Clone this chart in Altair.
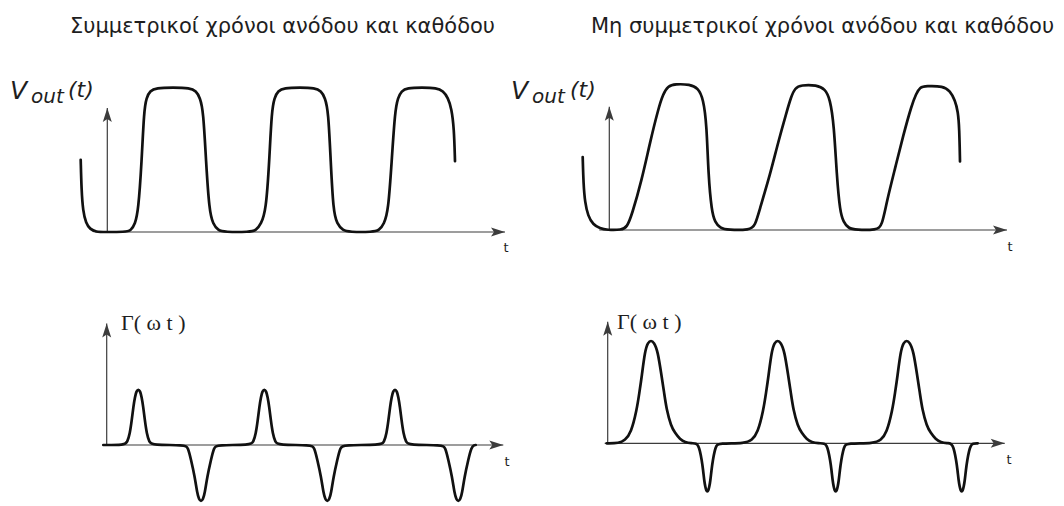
import altair as alt
import pandas as pd

# ------------------------------------------------------------------
# Waveform samples.  t is measured from the vertical axis in tenths of
# (roughly) one switching period; Vout is normalised to the high level,
# Γ(ωt) to the tallest pulse of the asymmetric case.
# ------------------------------------------------------------------

# Vout(t), symmetric rise/fall times
sym_t = [-2.66, -2.58, -2.43, -2.13, -1.73, -1.13, -0.23, 1.77, 2.37, 2.77,
         3.10, 3.44, 3.67, 3.92, 4.27, 4.87, 6.57, 8.27, 8.87, 9.27,
         9.60, 9.87, 10.20, 10.57, 11.10, 11.67, 14.27, 14.87, 15.37, 15.87,
         16.20, 16.44, 16.72, 17.07, 17.67, 19.27, 20.77, 21.37, 21.77, 22.10,
         22.34, 22.60, 22.97, 23.57, 24.17, 26.57, 27.17, 27.67, 28.10, 28.44,
         28.77, 29.07, 29.42, 29.97, 31.47, 32.94, 33.57, 34.07, 34.42, 34.67,
         34.77]
sym_v = [0.50, 0.29, 0.145, 0.06, 0.02, 0.0, 0.0, 0.0, 0.01, 0.055,
         0.145, 0.49, 0.84, 0.93, 0.976, 0.997, 1.0, 0.997, 0.976, 0.93,
         0.84, 0.49, 0.145, 0.055, 0.01, 0.0, 0.0, 0.01, 0.055, 0.145,
         0.49, 0.84, 0.93, 0.976, 0.997, 1.0, 0.997, 0.976, 0.93, 0.84,
         0.49, 0.145, 0.055, 0.01, 0.0, 0.0, 0.01, 0.055, 0.145, 0.49,
         0.84, 0.93, 0.976, 0.997, 1.0, 0.997, 0.976, 0.93, 0.855, 0.72,
         0.49]

# Vout(t), slow rise / fast fall
asym_t = [-2.66, -2.58, -2.43, -2.13, -1.63, -0.93, -0.23, 1.24, 1.77, 2.24,
          3.24, 4.07, 4.90, 5.37, 5.87, 6.57, 8.07, 8.87, 9.40, 9.74,
          9.90, 10.24, 10.57, 11.07, 11.87, 14.07, 14.57, 15.07, 16.07, 16.90,
          17.74, 18.17, 18.57, 19.17, 20.74, 21.57, 22.07, 22.47, 22.74, 23.07,
          23.42, 23.90, 24.67, 26.74, 27.27, 27.74, 28.57, 29.40, 30.24, 30.67,
          31.07, 31.67, 33.40, 34.07, 34.57, 34.87, 35.00, 35.07]
asym_v = [0.50, 0.31, 0.19, 0.096, 0.038, 0.01, 0.0, 0.0, 0.02, 0.10,
          0.34, 0.60, 0.83, 0.93, 0.986, 1.0, 0.997, 0.973, 0.90, 0.72,
          0.38, 0.125, 0.055, 0.014, 0.0, 0.0, 0.027, 0.149, 0.377, 0.605,
          0.81, 0.91, 0.973, 0.993, 0.993, 0.966, 0.90, 0.72, 0.377, 0.125,
          0.055, 0.012, 0.0, 0.0, 0.027, 0.194, 0.42, 0.65, 0.856, 0.93,
          0.98, 0.986, 0.986, 0.952, 0.89, 0.81, 0.70, 0.47]

# Γ(ωt), symmetric case: narrow pulses of equal height and depth
sym_g_t = [-0.34,
           1.76, 2.06, 2.31, 2.51, 2.66, 2.83, 2.98, 3.16, 3.34, 3.49, 3.66, 3.81, 4.01, 4.26, 4.56,
           7.83, 8.13, 8.43, 8.81, 9.05, 9.23, 9.43, 9.63, 9.81, 10.05, 10.43, 10.73, 11.03,
           14.36, 14.66, 14.91, 15.11, 15.26, 15.43, 15.58, 15.76, 15.94, 16.09, 16.26, 16.41, 16.61, 16.86, 17.16,
           20.46, 20.76, 21.06, 21.44, 21.68, 21.86, 22.06, 22.26, 22.44, 22.68, 23.06, 23.36, 23.66,
           27.43, 27.73, 27.98, 28.18, 28.33, 28.50, 28.65, 28.83, 29.01, 29.16, 29.33, 29.48, 29.68, 29.93, 30.23,
           33.56, 33.86, 34.16, 34.54, 34.78, 34.96, 35.16, 35.36, 35.54, 35.78, 36.16, 36.46, 36.76,
           36.90]
sym_g = [0.0,
         0.0, 0.027, 0.108, 0.243, 0.367, 0.47, 0.524, 0.54, 0.524, 0.47, 0.367, 0.243, 0.108, 0.027, 0.0,
         0.0, -0.022, -0.143, -0.308, -0.468, -0.528, -0.55, -0.528, -0.468, -0.308, -0.143, -0.022, 0.0,
         0.0, 0.027, 0.108, 0.243, 0.367, 0.47, 0.524, 0.54, 0.524, 0.47, 0.367, 0.243, 0.108, 0.027, 0.0,
         0.0, -0.022, -0.143, -0.308, -0.468, -0.528, -0.55, -0.528, -0.468, -0.308, -0.143, -0.022, 0.0,
         0.0, 0.027, 0.108, 0.243, 0.367, 0.47, 0.524, 0.54, 0.524, 0.47, 0.367, 0.243, 0.108, 0.027, 0.0,
         0.0, -0.022, -0.143, -0.308, -0.468, -0.528, -0.55, -0.528, -0.468, -0.308, -0.143, -0.022, 0.0,
         0.0]

# Γ(ωt), asymmetric case: broad tall pulses on the slow edge, small ones on the fast edge
asym_g_t = [-0.10,
            1.13, 1.73, 2.33, 2.90, 3.18, 3.40, 3.73, 4.03, 4.33, 4.63, 5.00, 5.40, 5.63, 5.90, 6.33, 6.73, 7.23, 7.73, 8.40,
            8.86, 9.06, 9.21, 9.41, 9.54, 9.66, 9.76, 9.86, 9.96, 10.06, 10.16, 10.26, 10.38, 10.51, 10.71, 10.86, 11.06,
            13.80, 14.40, 15.00, 15.57, 15.85, 16.07, 16.40, 16.70, 17.00, 17.30, 17.67, 18.07, 18.30, 18.57, 19.00, 19.40, 19.90, 20.40, 21.10,
            21.70, 21.90, 22.05, 22.25, 22.38, 22.50, 22.60, 22.70, 22.80, 22.90, 23.00, 23.10, 23.22, 23.35, 23.55, 23.70, 23.90,
            26.70, 27.30, 27.90, 28.47, 28.75, 28.97, 29.30, 29.60, 29.90, 30.20, 30.57, 30.97, 31.20, 31.47, 31.90, 32.30, 32.80, 33.30, 34.00,
            34.30, 34.50, 34.65, 34.85, 34.98, 35.10, 35.20, 35.30, 35.40, 35.50, 35.60, 35.70, 35.82, 35.95, 36.15, 36.30, 36.50,
            37.00]
asym_g = [0.0,
          0.0, 0.03, 0.10, 0.32, 0.50, 0.645, 0.90, 0.98, 1.0, 0.98, 0.90, 0.645, 0.50, 0.32, 0.17, 0.10, 0.04, 0.01, 0.0,
          0.0, -0.024, -0.066, -0.165, -0.259, -0.367, -0.423, -0.461, -0.47, -0.461, -0.423, -0.367, -0.259, -0.165, -0.066, -0.024, 0.0,
          0.0, 0.03, 0.10, 0.32, 0.50, 0.645, 0.90, 0.98, 1.0, 0.98, 0.90, 0.645, 0.50, 0.32, 0.17, 0.10, 0.04, 0.01, 0.0,
          0.0, -0.024, -0.066, -0.165, -0.259, -0.367, -0.423, -0.461, -0.47, -0.461, -0.423, -0.367, -0.259, -0.165, -0.066, -0.024, 0.0,
          0.0, 0.03, 0.10, 0.32, 0.50, 0.645, 0.90, 0.98, 1.0, 0.98, 0.90, 0.645, 0.50, 0.32, 0.17, 0.10, 0.04, 0.01, 0.0,
          0.0, -0.024, -0.066, -0.165, -0.259, -0.367, -0.423, -0.461, -0.47, -0.461, -0.423, -0.367, -0.259, -0.165, -0.066, -0.024, 0.0,
          0.0]

titles = ["Συμμετρικοί χρόνοι ανόδου και καθόδου",
          "Μη συμμετρικοί χρόνοι ανόδου και καθόδου"]

# ------------------------------------------------------------------
# Layout and style
# ------------------------------------------------------------------
PW, PH = 532, 253          # each of the four panels
TU = 10.0                  # pixels per time unit
INK = "#111111"
AXIS_C = "#3c3c3c"
TEXT_C = "#1e1e1e"
SANS = "DejaVu Sans"
SERIF = "Liberation Serif"

# arrowheads drawn with their tip on the anchor point (1 path unit = 1 px at size 4)
ARROW_RIGHT = "M0,0L-14,-4.5L-11,0L-14,4.5Z"
ARROW_UP = "M0,0L-4.5,14L0,11L4.5,14Z"

# per panel: axis origin inside the panel (px), px per amplitude unit,
# x-axis extent and y-axis tip
FRAMES = {
    "p1": dict(x0=107.3, y0=232.0, yu=144.5, xaxis=(-1.2, 39.77), ytip=0.858),
    "p2": dict(x0=77.3, y0=230.0, yu=146.0, xaxis=(-1.0, 39.77), ytip=0.845),
    "p3": dict(x0=106.7, y0=192.0, yu=103.0, xaxis=(-0.4, 39.66), ytip=1.18),
    "p4": dict(x0=75.7, y0=190.3, yu=103.0, xaxis=(-0.3, 39.70), ytip=1.18),
}

TITLE_STYLE = dict(font=SANS, fontSize=21, align="center", baseline="alphabetic", color=TEXT_C)
V_STYLE = dict(font=SANS, fontSize=25, fontStyle="italic", align="left", baseline="alphabetic", color=TEXT_C)
SUB_STYLE = dict(font=SANS, fontSize=20, fontStyle="italic", align="left", baseline="alphabetic", color=TEXT_C)
ARG_STYLE = dict(font=SANS, fontSize=22, fontStyle="italic", align="left", baseline="alphabetic", color=TEXT_C)
GAMMA_STYLE = dict(font=SERIF, fontSize=22, align="left", baseline="middle", color=TEXT_C)
T_STYLE = dict(font=SANS, fontSize=13, align="center", baseline="middle", color=TEXT_C)

LABELS = {
    "p1": [(titles[0], 17.52, 1.377, TITLE_STYLE),
           ("V", -9.73, 0.920, V_STYLE),
           ("out", -7.63, 0.893, SUB_STYLE),
           ("(t)", -3.93, 0.934, ARG_STYLE),
           ("t", 39.87, -0.110, T_STYLE)],
    "p2": [(titles[1], 21.32, 1.349, TITLE_STYLE),
           ("V", -9.83, 0.897, V_STYLE),
           ("out", -7.73, 0.870, SUB_STYLE),
           ("(t)", -3.93, 0.911, ARG_STYLE),
           ("t", 40.07, -0.116, T_STYLE)],
    "p3": [("Γ( ω t )", 1.43, 1.184, GAMMA_STYLE),
           ("t", 40.03, -0.165, T_STYLE)],
    "p4": [("Γ( ω t )", 0.93, 1.18, GAMMA_STYLE),
           ("t", 40.13, -0.162, T_STYLE)],
}


def panel(key, t, v):
    f = FRAMES[key]
    xs = alt.Scale(domain=[-f["x0"] / TU, (PW - f["x0"]) / TU], nice=False, zero=False)
    ys = alt.Scale(domain=[-(PH - f["y0"]) / f["yu"], f["y0"] / f["yu"]], nice=False, zero=False)

    def X(field):
        return alt.X(field, type="quantitative", scale=xs, axis=None)

    def Y(field):
        return alt.Y(field, type="quantitative", scale=ys, axis=None)

    x_start, x_end = f["xaxis"]
    axes = pd.DataFrame({"x": [x_start, 0.0], "x2": [x_end, 0.0],
                         "y": [0.0, 0.0], "y2": [0.0, f["ytip"]]})
    rules = alt.Chart(axes).mark_rule(color=AXIS_C, strokeWidth=1.2).encode(
        x=X("x"), x2="x2", y=Y("y"), y2="y2")

    head_x = alt.Chart(pd.DataFrame({"x": [x_end], "y": [0.0]})).mark_point(
        shape=ARROW_RIGHT, size=4, filled=True, opacity=1, color=AXIS_C, strokeWidth=0
    ).encode(x=X("x"), y=Y("y"))
    head_y = alt.Chart(pd.DataFrame({"x": [0.0], "y": [f["ytip"]]})).mark_point(
        shape=ARROW_UP, size=4, filled=True, opacity=1, color=AXIS_C, strokeWidth=0
    ).encode(x=X("x"), y=Y("y"))

    assert len(t) == len(v)
    # B-spline through the sampled points gives the rounded corners of the traces
    curve = alt.Chart(pd.DataFrame({"t": t, "v": v})).mark_line(
        interpolate="basis", color=INK, strokeWidth=2.7,
        strokeCap="round", strokeJoin="round"
    ).encode(x=X("t"), y=Y("v"), order=alt.Order("t:Q"))

    texts = []
    for s, lx, ly, style in LABELS[key]:
        texts.append(
            alt.Chart(pd.DataFrame({"x": [lx], "y": [ly], "s": [s]}))
            .mark_text(**style)
            .encode(x=X("x"), y=Y("y"), text="s:N")
        )

    return alt.layer(rules, head_x, head_y, curve, *texts).properties(width=PW, height=PH)


chart = (
    alt.concat(
        panel("p1", sym_t, sym_v),
        panel("p2", asym_t, asym_v),
        panel("p3", sym_g_t, sym_g),
        panel("p4", asym_g_t, asym_g),
        columns=2, spacing=0, bounds="flush",
    )
    .properties(padding=0, background="white")
    .configure_view(stroke=None)
)

chart.save("out.html", embed_options={"renderer": "svg", "actions": False})
